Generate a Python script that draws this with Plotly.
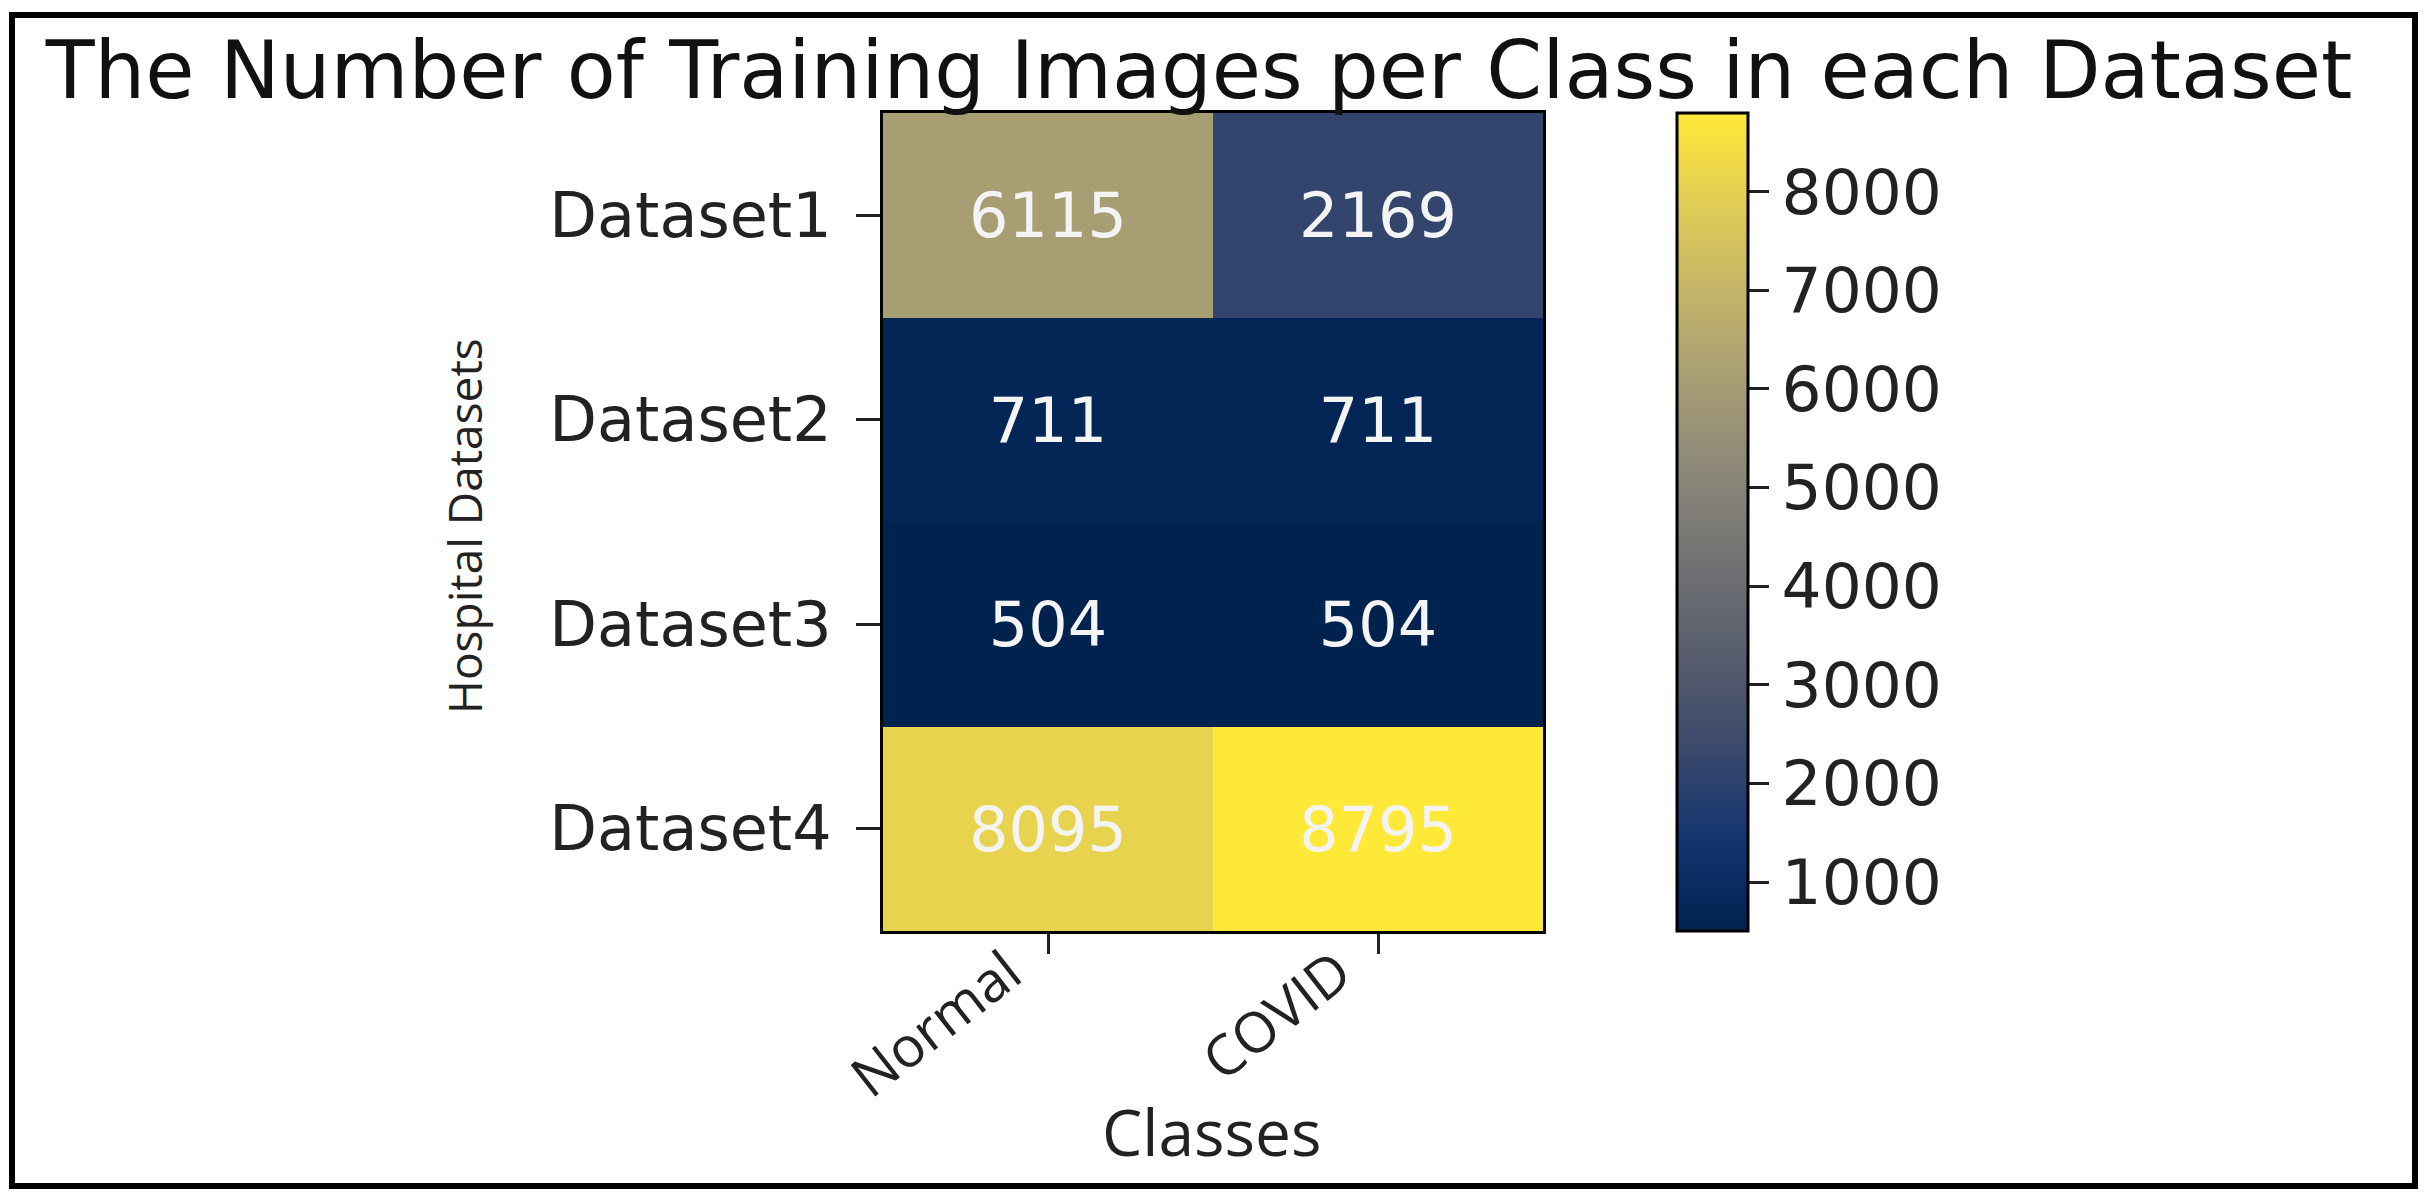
import plotly.graph_objects as go

# ---- data ----
datasets = ["Dataset1", "Dataset2", "Dataset3", "Dataset4"]
classes = ["Normal", "COVID"]
normal_counts = [6115, 711, 504, 8095]
covid_counts = [2169, 711, 504, 8795]
cbar_ticks = [1000, 2000, 3000, 4000, 5000, 6000, 7000, 8000]

title_text = "The Number of Training Images per Class in each Dataset"
x_title = "Classes"
y_title = "Hospital Datasets"

z = [[n, c] for n, c in zip(normal_counts, covid_counts)]

W, H = 2426, 1197
L, R, T, B = 883, 1543, 113, 931  # plot area in pixels
PW, PH = R - L, B - T


def px_x(p):
    return (p - L) / PW


def px_y(p):
    return (B - p) / PH


fig = go.Figure(
    go.Heatmap(
        z=z,
        x=classes,
        y=datasets,
        colorscale="Cividis",
        texttemplate="%{z}",
        textfont=dict(family="DejaVu Sans", size=62, color="#f4f4f4"),
        xgap=0,
        ygap=0,
        colorbar=dict(
            x=px_x(1677),
            xanchor="left",
            y=0.5,
            yanchor="middle",
            len=1.0,
            lenmode="fraction",
            thickness=71,
            thicknessmode="pixels",
            xpad=0,
            ypad=0,
            outlinewidth=3,
            outlinecolor="black",
            tickvals=cbar_ticks,
            ticks="outside",
            ticklen=20,
            tickwidth=3,
            tickcolor="#222",
            tickfont=dict(family="DejaVu Sans", size=63, color="#222"),
        ),
    )
)

fig.update_layout(
    width=W,
    height=H,
    margin=dict(l=L, r=W - R, t=T, b=H - B, autoexpand=False),
    paper_bgcolor="white",
    plot_bgcolor="white",
    title=dict(
        text=title_text,
        font=dict(family="DejaVu Sans", size=80, color="#111"),
        x=px_x(1199),
        xref="paper",
        xanchor="center",
        y=1 - 70 / H,
        yref="container",
        yanchor="middle",
    ),
    xaxis=dict(
        tickangle=-38,
        tickfont=dict(family="Open Sans", size=56, color="#222"),
        ticks="outside",
        ticklen=20,
        tickwidth=3,
        tickcolor="#222",
        ticklabelstandoff=-36,
        ticklabelshift=-40,
        showline=True,
        linecolor="black",
        linewidth=3,
        mirror=True,
        showgrid=False,
        zeroline=False,
        automargin=False,
    ),
    yaxis=dict(
        autorange="reversed",
        tickfont=dict(family="DejaVu Sans", size=62, color="#222"),
        ticks="outside",
        ticklen=24,
        tickwidth=3,
        tickcolor="#222",
        ticklabelstandoff=12,
        showline=True,
        linecolor="black",
        linewidth=3,
        mirror=True,
        showgrid=False,
        zeroline=False,
        automargin=False,
    ),
    annotations=[
        dict(
            text=x_title,
            xref="paper",
            yref="paper",
            x=px_x(1211),
            y=px_y(1131),
            xanchor="center",
            yanchor="middle",
            showarrow=False,
            font=dict(family="Open Sans", size=64, color="#222"),
        ),
        dict(
            text=y_title,
            xref="paper",
            yref="paper",
            x=px_x(464),
            y=px_y(526),
            xanchor="center",
            yanchor="middle",
            textangle=-90,
            showarrow=False,
            font=dict(family="Open Sans", size=46, color="#222"),
        ),
    ],
    shapes=[
        dict(
            type="rect",
            xref="paper",
            yref="paper",
            x0=px_x(12),
            x1=px_x(2415),
            y0=px_y(1186),
            y1=px_y(15),
            line=dict(color="black", width=6),
            fillcolor="rgba(0,0,0,0)",
            layer="above",
        )
    ],
)

fig.write_html(
    "out.html",
    config={"displayModeBar": False},
    post_script="document.body.style.margin='0';document.body.style.overflow='hidden';",
)
